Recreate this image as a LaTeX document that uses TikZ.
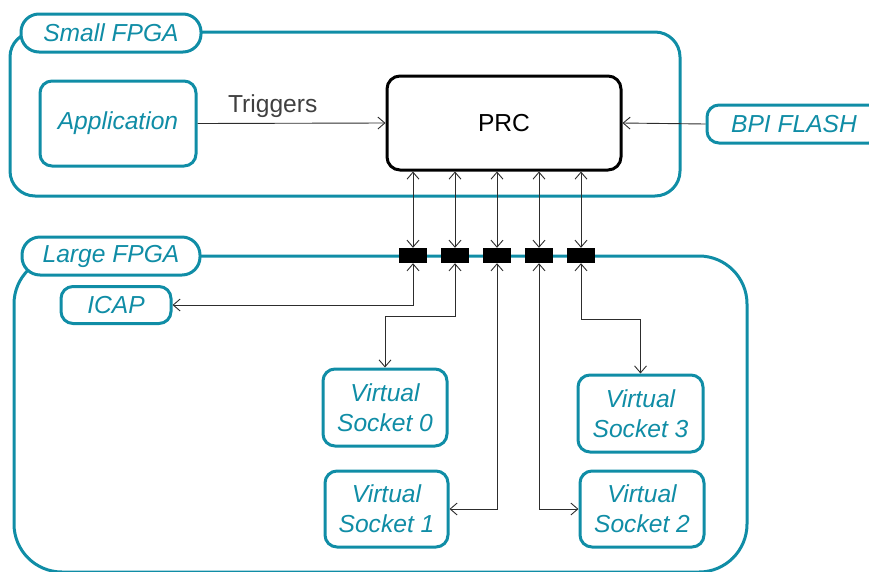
\documentclass[tikz,border=0pt]{standalone}
\usepackage{fontspec}
\setmainfont{Liberation Sans}
\usetikzlibrary{arrows.meta}
\definecolor{tealc}{RGB}{16,141,166}
\definecolor{arrowc}{RGB}{45,45,45}
\definecolor{labelc}{RGB}{64,64,64}
\begin{document}
\begin{tikzpicture}[x=1pt,y=-1pt,
  >={Straight Barb[length=7pt,width=12pt]},
  container/.style={draw=tealc, line width=3pt, rounded corners=#1},
  tabbox/.style={draw=tealc, fill=white, line width=3pt, rounded corners=18pt,
    text=tealc, font=\fontsize{24.6}{30}\selectfont\itshape, inner sep=0pt,
    minimum height=38pt},
  tbox/.style={draw=tealc, fill=white, line width=3pt, rounded corners=12pt,
    text=tealc, font=\fontsize{24.6}{30}\selectfont\itshape, inner sep=0pt, align=center},
  prcbox/.style={draw=black, line width=3pt, rounded corners=13pt,
    font=\fontsize{24.6}{30}\selectfont, inner sep=0pt},
  chip/.style={fill=black, draw=none, minimum width=28pt, minimum height=15pt, inner sep=0pt},
  conn/.style={draw=arrowc, line width=0.9pt}
]
\useasboundingbox (0,0) rectangle (869,571);
\clip (0,0) rectangle (869,571);

% containers
\draw[container=25pt] (10,32) rectangle (680,196);
\draw[container=48pt] (14,256) rectangle (747,572);

% tabs
\node[tabbox, minimum width=180pt] (smalltab) at (111,33) {Small FPGA};
\node[tabbox, minimum width=178pt] (largetab) at (111,256) {Large FPGA};

% boxes
\node[tbox, minimum width=156pt, minimum height=85pt] (app) at (118,123.5) {Application};
\node[prcbox, minimum width=234pt, minimum height=94pt] (prc) at (504,123) {PRC};
\node[tbox, minimum width=174pt, minimum height=38pt] (bpi) at (794,124) {BPI FLASH};
\node[tbox, minimum width=110pt, minimum height=37pt] (icap) at (116,305) {ICAP};
\node[tbox, minimum width=124pt, minimum height=77pt] (vs0) at (385,407.5) {Virtual\\Socket 0};
\node[tbox, minimum width=123pt, minimum height=76pt] (vs1) at (386.5,509) {Virtual\\Socket 1};
\node[tbox, minimum width=124pt, minimum height=76pt] (vs2) at (642,509) {Virtual\\Socket 2};
\node[tbox, minimum width=125pt, minimum height=77pt] (vs3) at (640.5,413.5) {Virtual\\Socket 3};

% chips
\node[chip] (c1) at (413,255.5) {};
\node[chip] (c2) at (455,255.5) {};
\node[chip] (c3) at (497,255.5) {};
\node[chip] (c4) at (539,255.5) {};
\node[chip] (c5) at (581,255.5) {};

% PRC <-> chips
\foreach \c in {c1,c2,c3,c4,c5}{
  \draw[conn,<->] (prc.south -| \c) -- (\c.north);
}

% triggers and BPI
\draw[conn,->] (app.east) -- node[above=2pt, text=labelc, font=\fontsize{24.6}{30}\selectfont, pos=0.4] (trig) {Triggers} (prc.west);
\draw[conn,->] (bpi.west) -- (prc.east);

% chips to sockets
\draw[conn,<->] (c1.south) |- (icap.east);
\coordinate (k2) at (455,316);
\draw[conn,<->] (c2.south) -- (k2) -| (vs0.north);
\draw[conn,<->] (c3.south) |- (vs1.east);
\draw[conn,<->] (c4.south) |- (vs2.west);
\coordinate (k5) at (581,319);
\draw[conn,<->] (c5.south) -- (k5) -| (vs3.north);
\end{tikzpicture}
\end{document}
